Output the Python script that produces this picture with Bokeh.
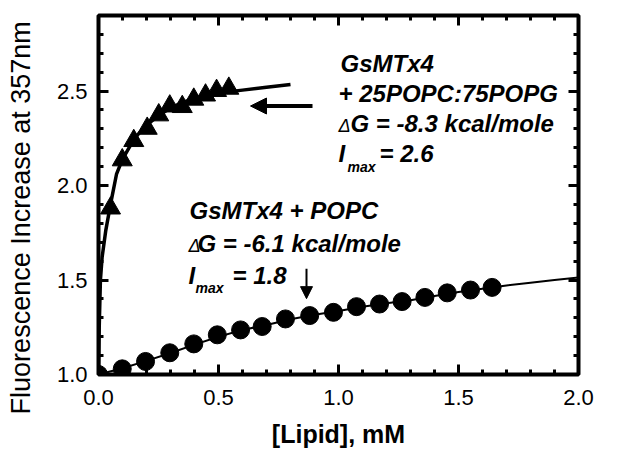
import math
from bokeh.plotting import figure
from bokeh.models import (Range1d, FixedTicker, LinearAxis, Label, Arrow, NormalHead,
                          PrintfTickFormatter, CustomJSTickFormatter)
from bokeh.embed import file_html
from bokeh.resources import INLINE

# GsMTx4 + POPC (circles)
popc_x = [0.0, 0.099, 0.196, 0.297, 0.397, 0.495, 0.592, 0.682, 0.779, 0.880, 0.979,
          1.075, 1.171, 1.265, 1.360, 1.453, 1.550, 1.640]
popc_y = [1.0, 1.030, 1.069, 1.115, 1.162, 1.210, 1.236, 1.254, 1.294, 1.312, 1.329,
          1.359, 1.373, 1.386, 1.408, 1.432, 1.447, 1.461]
# fitted curve for POPC
popc_fit_x = [0.0, 0.1, 0.2, 0.3, 0.4, 0.5, 0.6, 0.7, 0.8, 0.9, 1.0, 1.1, 1.2, 1.3,
              1.4, 1.5, 1.6, 1.7, 1.8, 1.9, 2.0]
popc_fit_y = [1.0, 1.033, 1.072, 1.114, 1.158, 1.200, 1.236, 1.262, 1.292, 1.316, 1.336,
              1.358, 1.377, 1.393, 1.415, 1.437, 1.454, 1.471, 1.486, 1.500, 1.514]

# GsMTx4 + 25POPC:75POPG (triangles)
popg_x = [0.0, 0.050, 0.099, 0.147, 0.203, 0.251, 0.297, 0.349, 0.397, 0.446, 0.492, 0.543]
popg_y = [1.0, 1.880, 2.135, 2.237, 2.302, 2.373, 2.420, 2.417, 2.456, 2.478, 2.502, 2.514]
# fitted curve for POPG
popg_fit_x = [0.0, 0.003, 0.008, 0.015, 0.03, 0.05, 0.075, 0.1, 0.15, 0.2, 0.25, 0.3,
              0.35, 0.4, 0.5, 0.6, 0.7, 0.8]
popg_fit_y = [1.0, 1.25, 1.50, 1.62, 1.76, 1.90, 2.06, 2.14, 2.25, 2.32, 2.37, 2.41,
              2.44, 2.46, 2.49, 2.505, 2.52, 2.535]

x_major = [0.0, 0.5, 1.0, 1.5, 2.0]
x_minor = [round(i * 0.1, 1) for i in range(21)]
y_major = [1.0, 1.5, 2.0, 2.5]
y_minor = [round(1.0 + i * 0.1, 1) for i in range(20)]

FONT = "Liberation Sans"

W, H = 621, 466
p = figure(width=W, height=H, output_backend="svg", toolbar_location=None,
           x_range=Range1d(0, 2.0), y_range=Range1d(1.0, 2.9),
           min_border_left=98, min_border_right=43, min_border_top=15, min_border_bottom=92)
p.background_fill_color = "white"
p.border_fill_color = "white"
p.grid.visible = False
p.outline_line_color = "black"
p.outline_line_width = 4

def style_axis(ax, labels=True):
    ax.axis_line_color = None
    ax.major_tick_in = 10
    ax.major_tick_out = 0
    ax.minor_tick_in = 5
    ax.minor_tick_out = 0
    ax.major_tick_line_width = 3
    ax.minor_tick_line_width = 3
    ax.major_tick_line_color = "black"
    ax.minor_tick_line_color = "black"
    ax.major_label_text_font = FONT
    ax.major_label_text_color = "black"
    if labels:
        ax.formatter = PrintfTickFormatter(format="%.1f")
        ax.major_label_text_font_size = "22px"
    else:
        ax.formatter = CustomJSTickFormatter(code="return ''")
        ax.major_label_text_font_size = "1px"
        ax.major_label_standoff = 0

xa = p.xaxis[0]
xa.ticker = FixedTicker(ticks=x_major, minor_ticks=x_minor)
style_axis(xa)
xa.major_label_standoff = 15
xa.axis_label = "[Lipid], mM"
xa.axis_label_text_font = FONT
xa.axis_label_text_font_size = "25px"
xa.axis_label_text_font_style = "bold"
xa.axis_label_text_color = "black"
xa.axis_label_standoff = 12

ya = p.yaxis[0]
ya.ticker = FixedTicker(ticks=y_major, minor_ticks=y_minor)
style_axis(ya)
ya.major_label_standoff = 11

top = LinearAxis(ticker=FixedTicker(ticks=x_major, minor_ticks=x_minor))
style_axis(top, labels=False)
p.add_layout(top, "above")
right = LinearAxis(ticker=FixedTicker(ticks=y_major, minor_ticks=y_minor))
style_axis(right, labels=False)
p.add_layout(right, "right")

# fitted curves
p.line(popg_fit_x, popg_fit_y, line_color="black", line_width=3.5)
p.line(popc_fit_x, popc_fit_y, line_color="black", line_width=2)
# data points
p.scatter(popg_x, popg_y, marker="triangle", size=20, fill_color="black", line_color="black")
p.scatter(popc_x, popc_y, marker="circle", size=18, fill_color="black", line_color="black")

# helpers to convert reference pixel positions into data coordinates (annotations only)
def dx(px):
    return (px - 98) / 240.0

def dy(py):
    return 1.0 + (374 - py) / 189.3

# y axis title, in the left side panel (sits lower than the frame centre, as in the reference)
p.add_layout(Label(x=dx(32 - 0.42 * 27), y=dy(217), text="Fluorescence Increase at 357nm",
                   angle=math.pi / 2, text_font=FONT, text_font_size="27px",
                   text_color="black", text_align="center", text_baseline="alphabetic"),
             "left")

# arrows
p.add_layout(Arrow(end=NormalHead(size=16, fill_color="black", line_color="black"),
                   x_start=dx(312), y_start=dy(105), x_end=dx(250), y_end=dy(105),
                   line_width=4, line_color="black"))
p.add_layout(Arrow(end=NormalHead(size=12, fill_color="black", line_color="black"),
                   x_start=dx(306), y_start=dy(268), x_end=dx(306), y_end=dy(298),
                   line_width=2, line_color="black"))

def lab(text, px, py, size=24, style="bold italic"):
    py = py - 0.42 * size
    p.add_layout(Label(x=dx(px), y=dy(py), text=text, text_font=FONT,
                       text_font_size=f"{size}px", text_font_style=style,
                       text_color="black", text_baseline="alphabetic", text_align="left"))

# upper annotation
lab("GsMTx4", 340, 73)
lab("+ 25POPC:75POPG", 338, 103)
lab("\u0394", 338, 133, size=18, style="italic")
lab("G = -8.3 kcal/mole", 350, 133)
lab("I", 338, 163)
lab("max", 347, 172, size=14)
lab("= 2.6", 379, 163)

# lower annotation
lab("GsMTx4 + POPC", 189, 220)
lab("\u0394", 188, 253, size=18, style="italic")
lab("G = -6.1 kcal/mole", 197, 253)
lab("I", 188, 285)
lab("max", 195, 293, size=14)
lab("= 1.8", 232, 285)

open("out.html", "w").write(file_html(p, INLINE))
